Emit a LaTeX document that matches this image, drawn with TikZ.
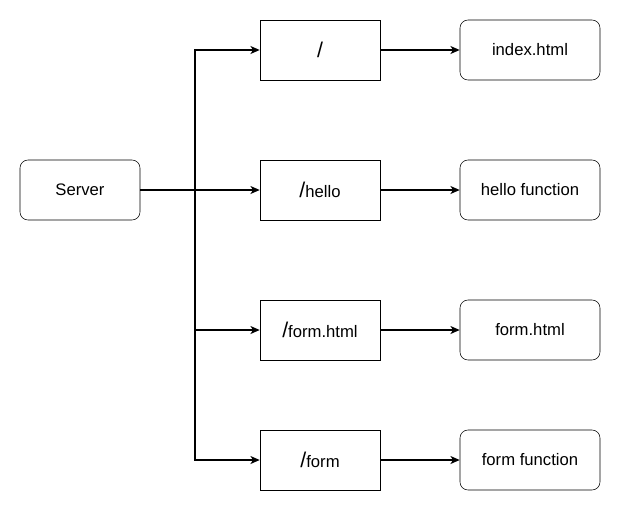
\documentclass[tikz,border=0pt]{standalone}
\usepackage{fontspec}
\setmainfont{Liberation Sans}
\usetikzlibrary{positioning,calc,arrows.meta}

\newcommand{\bigslash}{{\fontsize{16}{18}\selectfont /}}

\begin{document}
\begin{tikzpicture}[x=0.75pt,y=-0.75pt,
    every node/.style={font=\fontsize{12.5}{14}\selectfont},
    route/.style={draw,minimum width=90pt,minimum height=45pt,inner sep=0pt},
    result/.style={draw,rounded corners=6pt,minimum width=105pt,minimum height=45pt,inner sep=0pt},
    link/.style={line width=1.1pt,-{Stealth[length=7pt,width=6pt,inset=2pt]}}]
    \useasboundingbox (0,0) rectangle (621,511);
    \node[result,minimum width=90pt] (srv) at (80,190) {Server};
    \coordinate (J) at (195,190);
    \node[route] (r1) at (320,50) {\bigslash};
    \node[route] (r2) at (320,190) {\bigslash hello};
    \node[route] (r3) at (320,330) {\bigslash form.html};
    \node[route] (r4) at (320,460) {\bigslash form};
    \node[result] (p1) at (530,50) {index.html};
    \node[result] (p2) at (530,190) {hello function};
    \node[result] (p3) at (530,330) {form.html};
    \node[result] (p4) at (530,460) {form function};
    \draw[link] (srv.east) -- (J) |- (r1.west);
    \draw[link] (srv.east) -- (r2.west);
    \draw[link] (srv.east) -- (J) |- (r3.west);
    \draw[link] (srv.east) -- (J) |- (r4.west);
    \draw[link] (r1) -- (p1);
    \draw[link] (r2) -- (p2);
    \draw[link] (r3) -- (p3);
    \draw[link] (r4) -- (p4);
\end{tikzpicture}
\end{document}
